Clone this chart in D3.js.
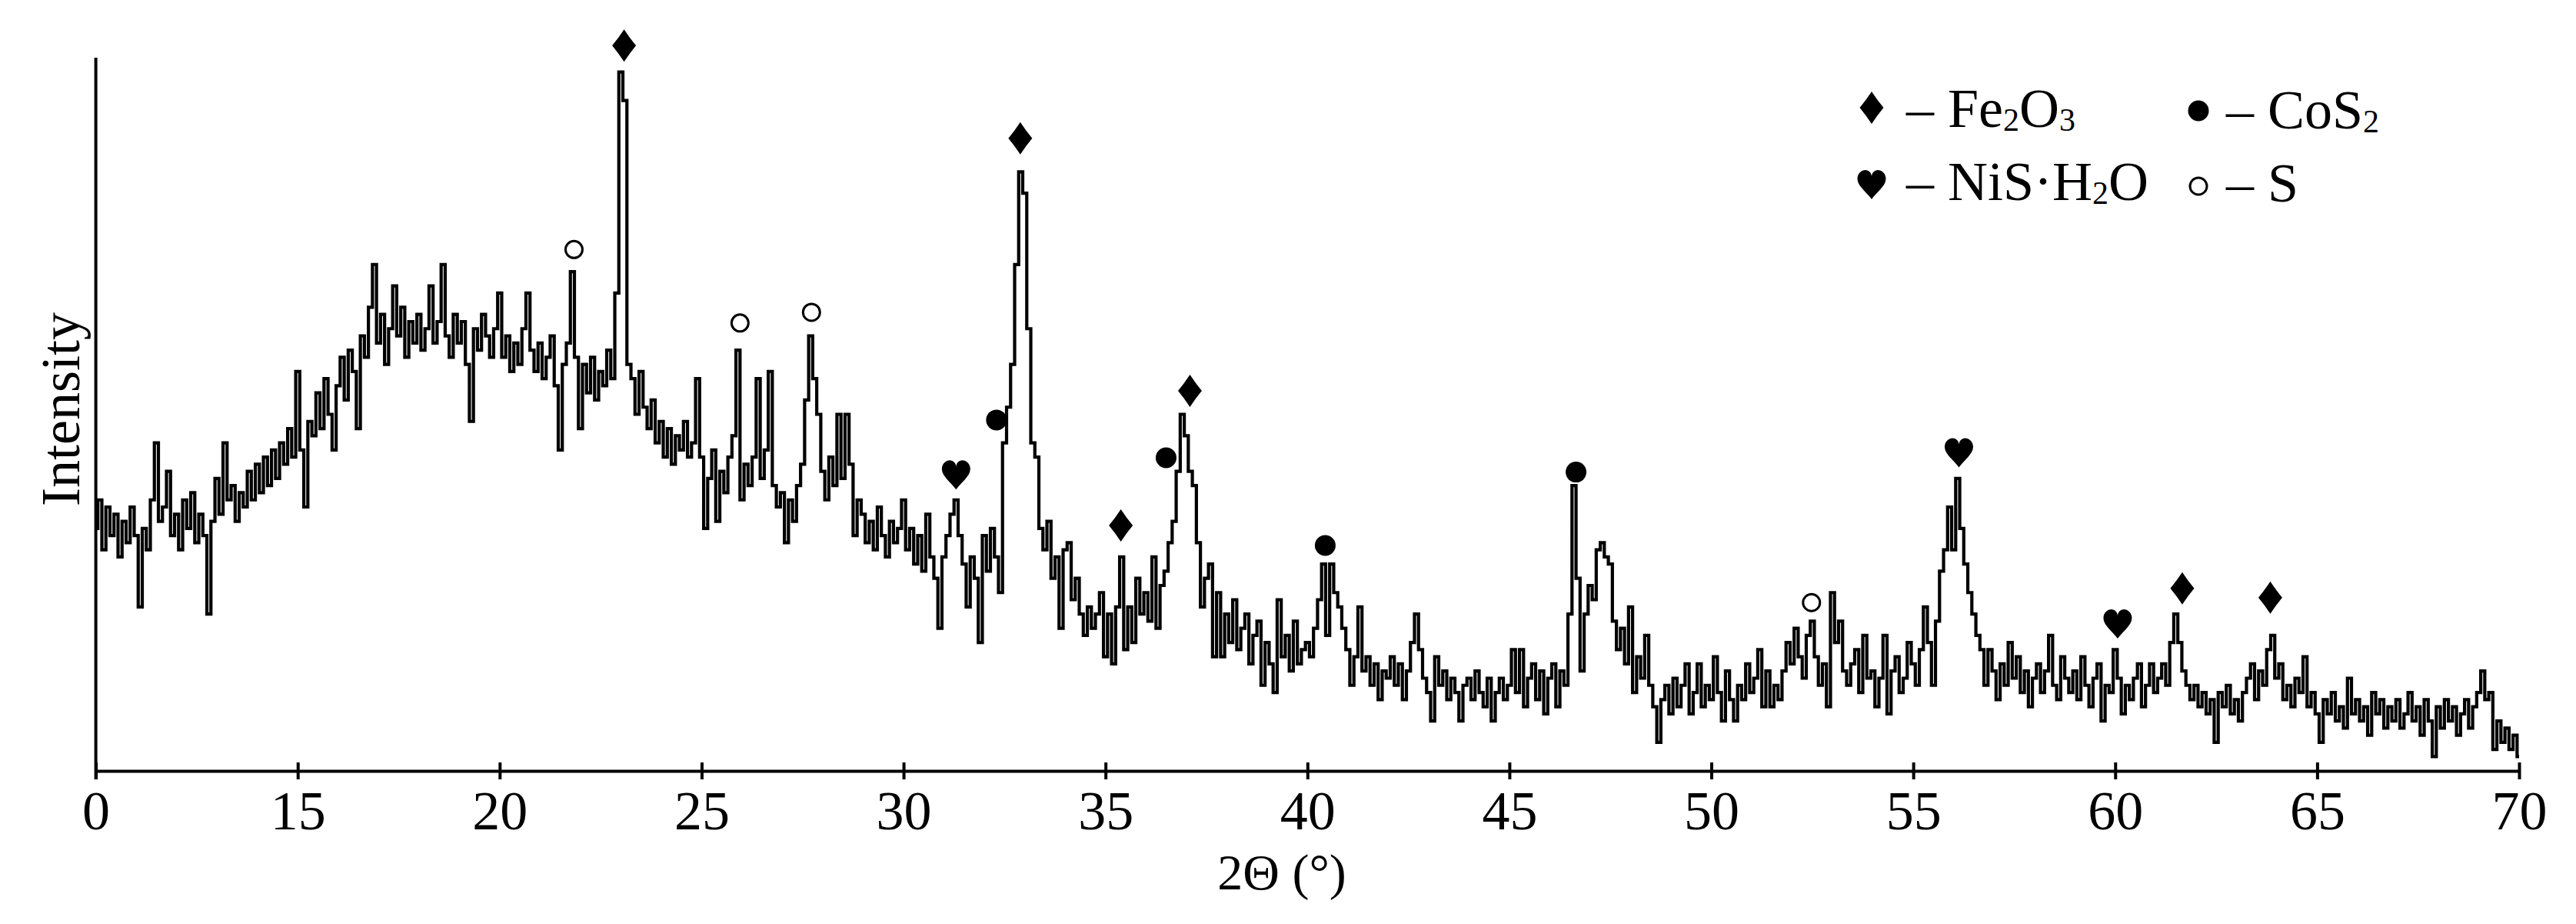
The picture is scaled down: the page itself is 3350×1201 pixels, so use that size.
<!DOCTYPE html>
<html lang="en">
<head>
<meta charset="UTF-8">
<title>XRD pattern</title>
<script src="https://d3js.org/d3.v7.min.js"></script>
<style>
  body { margin: 0; background: #fff; }
  svg { display: block; background: #fff; }
  text { font-family: "Times New Roman", "Liberation Serif", serif; fill: #000; }
</style>
</head>
<body>
<svg width="3350" height="1201"></svg>
<script>
// scan: 2-theta from 10 to 70 deg, step 0.1
var scanStart = 10, scanStep = 0.1;

// intensity (arbitrary units, axis top = 100), one row per degree
var intensity = [
  34, 38, 31, 37, 33, 36, 30, 35, 32, 37,   // 10
  33, 23, 34, 31, 38, 46, 35, 37, 42, 33,   // 11
  36, 31, 38, 34, 39, 32, 36, 33, 22, 35,   // 12
  41, 36, 46, 38, 40, 35, 39, 37, 42, 38,   // 13
  43, 39, 44, 40, 45, 41, 46, 43, 48, 44,   // 14
  56, 45, 37, 49, 47, 53, 48, 55, 50, 45,   // 15
  54, 58, 52, 59, 56, 48, 61, 58, 65, 71,   // 16
  60, 64, 57, 62, 68, 61, 65, 58, 63, 60,   // 17
  64, 59, 62, 68, 60, 63, 71, 61, 58, 64,   // 18
  60, 63, 57, 49, 62, 59, 64, 61, 58, 62,   // 19
  67, 58, 61, 56, 60, 57, 62, 67, 59, 56,   // 20
  60, 55, 58, 61, 54, 45, 57, 60, 70, 58,   // 21
  48, 57, 53, 58, 52, 56, 54, 59, 55, 67,   // 22
  98, 94, 57, 55, 50, 56, 51, 48, 52, 46,   // 23
  49, 44, 48, 43, 47, 45, 49, 44, 46, 55,   // 24
  44, 34, 41, 45, 35, 42, 39, 44, 47, 59,   // 25
  38, 43, 40, 44, 55, 41, 45, 56, 40, 37,   // 26
  39, 32, 38, 35, 40, 43, 52, 61, 55, 50,   // 27
  42, 38, 44, 40, 50, 41, 50, 43, 33, 38,   // 28
  36, 32, 35, 31, 37, 33, 30, 35, 32, 34,   // 29
  38, 31, 34, 29, 33, 28, 36, 30, 27, 20,   // 30
  30, 33, 36, 38, 33, 29, 23, 30, 27, 18,   // 31
  33, 28, 34, 30, 25, 46, 51, 57, 71, 84,   // 32
  81, 62, 46, 44, 34, 31, 35, 27, 30, 20,   // 33
  31, 32, 24, 27, 22, 19, 23, 20, 22, 25,   // 34
  16, 22, 15, 23, 30, 17, 23, 18, 27, 22,   // 35
  25, 21, 30, 20, 26, 28, 32, 35, 42, 50,   // 36
  47, 42, 40, 32, 23, 27, 29, 16, 25, 16,   // 37
  22, 18, 24, 17, 20, 22, 15, 19, 21, 12,   // 38
  18, 15, 11, 24, 16, 19, 14, 21, 15, 17,   // 39
  18, 16, 20, 24, 29, 19, 29, 25, 23, 20,   // 40
  17, 12, 16, 23, 14, 16, 12, 15, 10, 14,   // 41
  13, 16, 12, 15, 10, 14, 18, 22, 17, 13,   // 42
  11,  7, 16, 12, 14, 10, 13, 11,  7, 12,   // 43
  13, 10, 14, 11,  9, 13,  7, 11, 13, 10,   // 44
  12, 17, 11, 17,  9, 13, 15, 10, 14,  8,   // 45
  13, 15,  9, 14, 12, 22, 40, 27, 14, 22,   // 46
  26, 24, 31, 32, 30, 29, 21, 17, 20, 15,   // 47
  23, 11, 16, 13, 19, 12,  9,  4, 10, 12,   // 48
   8, 13,  9, 12, 15,  8, 11, 15,  9, 12,   // 49
  10, 16, 11,  7, 14, 10,  7, 12, 10, 15,   // 50
  11, 13, 17,  9, 14,  9, 12, 10, 14, 18,   // 51
  15, 20, 16, 13, 19, 21, 16, 12, 15,  9,   // 52
  25, 18, 21, 14, 12, 15, 17, 11, 19, 13,   // 53
  14,  9, 13, 19,  8, 14, 16, 11, 13, 18,   // 54
  15, 12, 17, 23, 18, 12, 21, 28, 31, 37,   // 55
  31, 41, 34, 29, 25, 22, 19, 17, 12, 17,   // 56
  14, 10, 15, 12, 18, 13, 16, 11, 14,  9,   // 57
  13, 15, 11, 14, 19, 12, 10, 16, 13, 11,   // 58
  14, 10, 16, 12,  9, 13, 15,  7, 12, 11,   // 59
  17, 13,  8, 12, 10, 13, 15,  9, 12, 15,   // 60
  11, 13, 15, 12, 18, 22, 18, 14, 12, 10,   // 61
  12,  9, 11,  8, 10,  4, 11,  9, 12,  8,   // 62
  10,  7, 11, 13, 15, 10, 14, 12, 17, 19,   // 63
  13, 15, 10, 12,  9, 13, 11, 16,  9, 11,   // 64
   8,  4, 10,  8, 11,  7,  9,  6, 13,  8,   // 65
  10,  7,  9,  5, 11,  8, 10,  6,  9,  7,   // 66
  10,  6,  8, 11,  7,  9,  5, 10,  7,  2,   // 67
   9,  6, 10,  7,  9,  5,  8, 10,  6,  9,   // 68
  11, 14, 10, 11,  3,  7,  4,  6,  3,  5,   // 69
   2                                        // 70
];

// phase markers: peak position (2-theta) and marker height (intensity units)
var fe2o3Peaks = [23.08, 32.89, 35.38, 37.09, 61.66, 63.84];
var fe2o3Levels = [101.7, 88.7, 34.4, 53.3, 25.6, 24.3];
var cos2Peaks = [32.3, 36.5, 40.44, 46.65];
var cos2Levels = [49.2, 43.9, 31.6, 41.9];
var nisPeaks = [31.3, 56.13, 60.06];
var nisLevels = [41.5, 44.6, 20.6];
var sPeaks = [21.84, 25.95, 27.72, 52.48];
var sLevels = [73.1, 62.8, 64.3, 23.6];

var xTickValues = [10, 15, 20, 25, 30, 35, 40, 45, 50, 55, 60, 65, 70];
var xTickLabels = ["0", "15", "20", "25", "30", "35", "40", "45", "50", "55", "60", "65", "70"];

var svg = d3.select("svg");

var x = d3.scaleLinear().domain([10, 70]).range([124.6, 3276]);
var y = d3.scaleLinear().domain([0, 100]).range([1002, 75]);

var data = intensity.map(function (v, i) {
    return { t: scanStart + i * scanStep, v: v };
});

// marker shapes
var diamond = {
    draw: function (ctx, size) {
        var w = 15.5 * size, h = 21 * size;
        ctx.moveTo(0, -h);
        ctx.quadraticCurveTo(w * 0.47, -h * 0.47, w, 0);
        ctx.quadraticCurveTo(w * 0.47, h * 0.47, 0, h);
        ctx.quadraticCurveTo(-w * 0.47, h * 0.47, -w, 0);
        ctx.quadraticCurveTo(-w * 0.47, -h * 0.47, 0, -h);
        ctx.closePath();
    }
};
var heart = {
    draw: function (ctx, size) {
        var w = 18.5 * size, h = 19 * size;
        ctx.moveTo(0, h);
        ctx.bezierCurveTo(-0.3 * w, 0.55 * h, -w, 0.1 * h, -w, -0.4 * h);
        ctx.bezierCurveTo(-w, -0.85 * h, -0.6 * w, -h, -0.45 * w, -h);
        ctx.bezierCurveTo(-0.2 * w, -h, 0, -0.8 * h, 0, -0.55 * h);
        ctx.bezierCurveTo(0, -0.8 * h, 0.2 * w, -h, 0.45 * w, -h);
        ctx.bezierCurveTo(0.6 * w, -h, w, -0.85 * h, w, -0.4 * h);
        ctx.bezierCurveTo(w, 0.1 * h, 0.3 * w, 0.55 * h, 0, h);
        ctx.closePath();
    }
};
var dot = {
    draw: function (ctx, size) {
        var r = 13.5 * size;
        ctx.moveTo(r, 0);
        ctx.arc(0, 0, r, 0, 2 * Math.PI);
    }
};
var ring = {
    draw: function (ctx, size) {
        var r = 11 * size;
        ctx.moveTo(r, 0);
        ctx.arc(0, 0, r, 0, 2 * Math.PI);
    }
};

var phases = [
    { peaks: fe2o3Peaks, levels: fe2o3Levels, type: diamond, filled: true },
    { peaks: cos2Peaks, levels: cos2Levels, type: dot, filled: true },
    { peaks: nisPeaks, levels: nisLevels, type: heart, filled: true },
    { peaks: sPeaks, levels: sLevels, type: ring, filled: false }
];

// pattern (drawn as steps, like the scanned trace)
svg.append("path")
    .datum(data)
    .attr("fill", "none")
    .attr("stroke", "#000")
    .attr("stroke-width", 4.2)
    .attr("d", d3.line()
        .curve(d3.curveStep)
        .x(function (d) { return x(d.t); })
        .y(function (d) { return y(d.v); }));

// x axis
var xAxis = svg.append("g")
    .attr("transform", "translate(0," + y(0) + ")")
    .call(d3.axisBottom(x)
        .tickValues(xTickValues)
        .tickFormat(function (d, i) { return xTickLabels[i]; })
        .tickSizeOuter(0));
xAxis.select(".domain").attr("stroke-width", 4);
xAxis.selectAll(".tick line").attr("y1", -11).attr("y2", 11).attr("stroke-width", 4);
xAxis.selectAll(".tick text")
    .attr("y", 76).attr("dy", 0)
    .attr("font-size", 72)
    .attr("font-family", null);

// y axis (no ticks)
svg.append("line")
    .attr("x1", x(10)).attr("x2", x(10))
    .attr("y1", y(100)).attr("y2", y(0) + 11)
    .attr("stroke", "#000").attr("stroke-width", 4);

// axis titles
svg.append("text")
    .attr("x", 1667).attr("y", 1156)
    .attr("text-anchor", "middle").attr("font-size", 66)
    .text("2\u0398 (\u00b0)");
svg.append("text")
    .attr("transform", "translate(103," + 532 + ") rotate(-90)")
    .attr("text-anchor", "middle").attr("font-size", 72)
    .text("Intensity");

// phase markers
phases.forEach(function (p) {
    svg.selectAll(null)
        .data(p.peaks)
        .enter().append("path")
        .attr("transform", function (d, i) { return "translate(" + x(d) + "," + y(p.levels[i]) + ")"; })
        .attr("d", d3.symbol().type(p.type).size(1))
        .attr("fill", p.filled ? "#000" : "none")
        .attr("stroke", p.filled ? "none" : "#000")
        .attr("stroke-width", 3);
});

// legend
var legendItems = [
    { type: diamond, filled: true, gx: 2434, gy: 140, tx: 2479, ty: 165, parts: [["\u2013 Fe", 0], ["2", 1], ["O", 0], ["3", 1]] },
    { type: dot, filled: true, gx: 2859, gy: 144, tx: 2895, ty: 167, parts: [["\u2013 CoS", 0], ["2", 1]] },
    { type: heart, filled: true, gx: 2434, gy: 240, tx: 2479, ty: 260, parts: [["\u2013 NiS\u00b7H", 0], ["2", 1], ["O", 0]] },
    { type: ring, filled: false, gx: 2859, gy: 242, tx: 2895, ty: 262, parts: [["\u2013 S", 0]] }
];
var legend = svg.append("g");
legendItems.forEach(function (item) {
    legend.append("path")
        .attr("transform", "translate(" + item.gx + "," + item.gy + ")")
        .attr("d", d3.symbol().type(item.type).size(1))
        .attr("fill", item.filled ? "#000" : "none")
        .attr("stroke", item.filled ? "none" : "#000")
        .attr("stroke-width", 3);
    var t = legend.append("text")
        .attr("x", item.tx).attr("y", item.ty)
        .attr("font-size", 72)
        .attr("xml:space", "preserve");
    var prevSub = 0;
    item.parts.forEach(function (part) {
        var sub = part[1];
        t.append("tspan")
            .attr("font-size", sub ? 42 : 72)
            .attr("dy", (sub - prevSub) * 5)
            .text(part[0]);
        prevSub = sub;
    });
});
</script>
</body>
</html>
